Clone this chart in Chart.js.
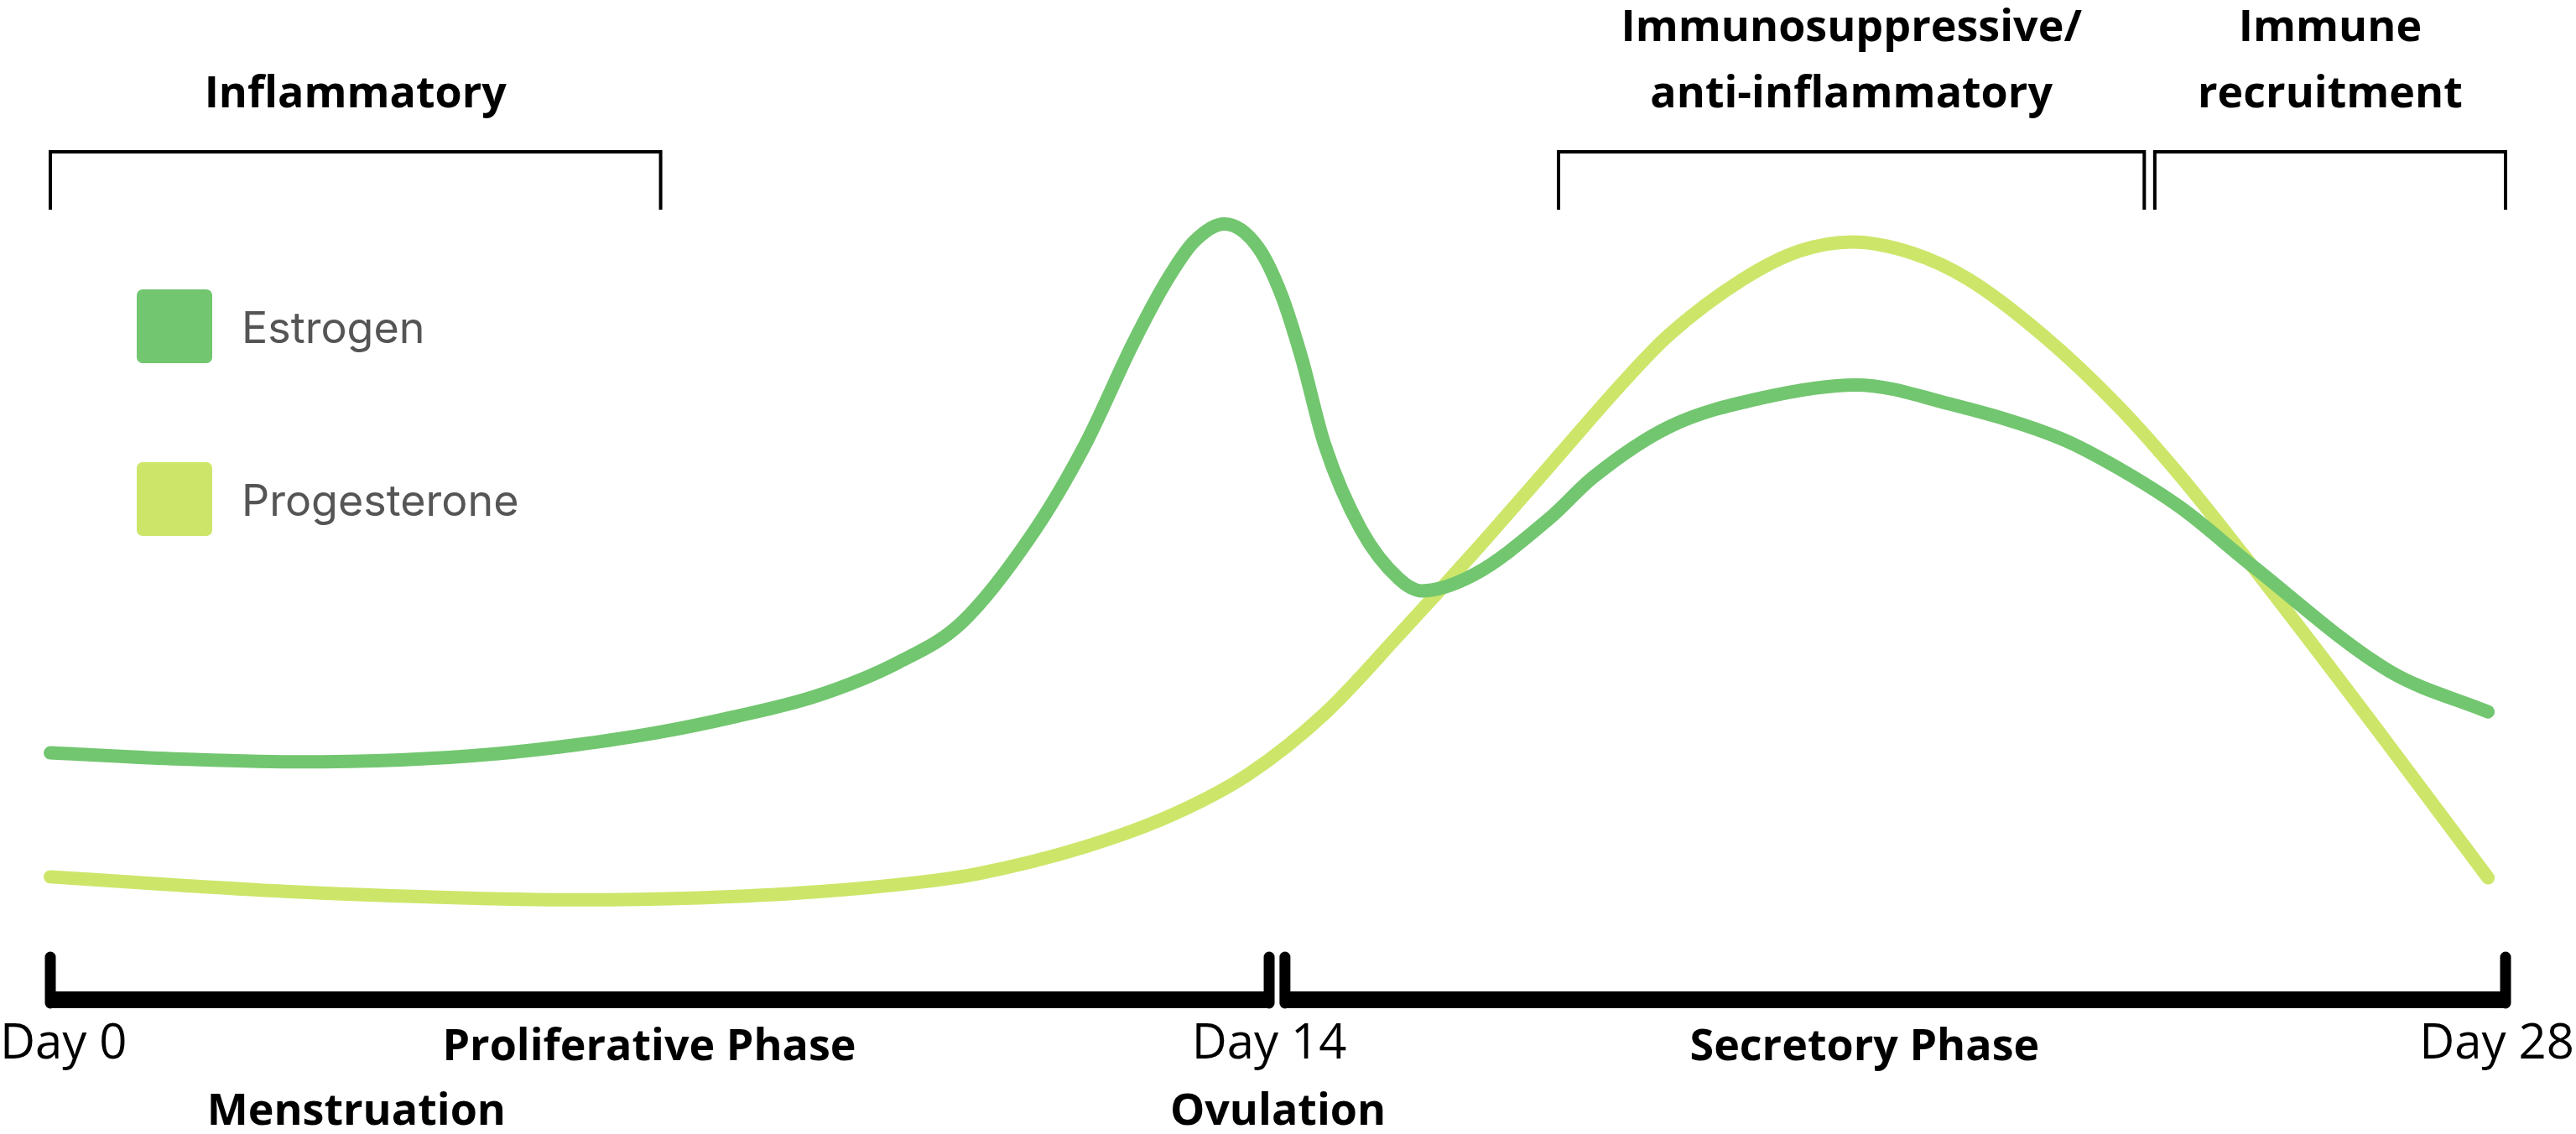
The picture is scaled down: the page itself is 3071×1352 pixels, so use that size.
<!DOCTYPE html>
<html>
<head>
<meta charset="utf-8">
<script src="https://cdn.jsdelivr.net/npm/chart.js@4"></script>
<style>
    html, body { margin: 0; padding: 0; background: #fff; overflow: hidden; }
    canvas { display: block; }
</style>
</head>
<body>
<canvas id="chart" width="3071" height="1352" style="width:3071px;height:1352px"></canvas>
<script>
// cycle day / relative hormone level
let estrogenDay = [0, 1.4, 2.78, 4.0, 5.08, 6.0, 6.91, 7.8, 8.74, 9.66, 10.39, 11.2, 11.8, 12.35, 12.73, 13.04, 13.39, 13.77, 14.04, 14.27, 14.53, 14.95, 15.38, 15.64, 16.23, 17.09, 17.6, 18.46, 19.52, 20.59, 21.66, 22.94, 23.58, 24.3, 25.1, 26.67, 27.8];
let estrogenLevel = [24.7, 24.1, 23.8, 24.0, 24.6, 25.5, 26.7, 28.3, 30.4, 33.7, 37.7, 46.6, 55.5, 65.7, 71.9, 75.8, 77.6, 75.3, 70.5, 64.2, 55.6, 47.0, 42.1, 40.9, 42.5, 48.1, 52.3, 57.3, 60.2, 61.5, 59.6, 56.1, 53.2, 49.2, 43.5, 32.9, 28.8];

let progesteroneDay = [0, 1.4, 2.78, 4.3, 6.0, 7.4, 8.74, 9.95, 10.57, 11.8, 12.82, 13.67, 14.53, 15.38, 16.23, 17.09, 17.94, 18.46, 19.31, 19.95, 20.55, 21.23, 21.87, 22.72, 23.58, 24.3, 25.1, 26.53, 27.8];
let progesteroneLevel = [12.3, 11.5, 10.8, 10.3, 10.0, 10.2, 10.8, 11.8, 12.6, 15.3, 18.6, 22.6, 28.6, 36.5, 44.7, 53.3, 61.8, 66.5, 72.1, 74.9, 75.8, 74.7, 72.1, 66.5, 59.4, 52.3, 43.5, 27.1, 12.2];

// timeline along the bottom
let phaseNames = ['Proliferative Phase', 'Secretory Phase'];
let phaseStart = [0, 14.08];
let phaseEnd = [13.9, 28];
let phaseLabelAt = [6.83, 20.69];

let dayLabels = ['Day 0', 'Day 14', 'Day 28'];
let dayLabelAt = [0.15, 13.9, 27.9];

let eventNames = ['Menstruation', 'Ovulation'];
let eventAt = [3.49, 14.0];

// immune windows along the top
let immuneNames = [['Inflammatory'], ['Immunosuppressive/', 'anti-inflammatory'], ['Immune', 'recruitment']];
let immuneStart = [0, 17.2, 24.0];
let immuneEnd = [6.96, 23.88, 28.0];

function toPoints(xs, ys) {
    let pts = [];
    for (let i = 0; i < xs.length; i++) {
        pts.push({ x: xs[i], y: ys[i] });
    }
    return pts;
}

const boldFont = '700 52px "Open Sans"';
const dayFont = '400 58px "Open Sans"';
const legendFont = '400 52px Inter';

const decor = {
    id: 'cycle_decor',
    afterDatasetsDraw: (chart) => {
        const ctx = chart.ctx;
        const xs = chart.scales.x;
        const base = chart.scales.y.getPixelForValue(0);

        ctx.save();
        ctx.strokeStyle = '#000';
        ctx.fillStyle = '#000';

        // bottom phase bars with end ticks
        for (let i = 0; i < phaseStart.length; i++) {
            let x0 = xs.getPixelForValue(phaseStart[i]);
            let x1 = xs.getPixelForValue(phaseEnd[i]);
            ctx.lineCap = 'butt';
            ctx.lineWidth = 20;
            ctx.beginPath();
            ctx.moveTo(x0, base);
            ctx.lineTo(x1, base);
            ctx.stroke();
            ctx.lineCap = 'round';
            ctx.lineWidth = 13;
            [x0, x1].forEach(function (px) {
                ctx.beginPath();
                ctx.moveTo(px, base + 4);
                ctx.lineTo(px, base - 51);
                ctx.stroke();
            });
        }

        ctx.textAlign = 'center';
        ctx.textBaseline = 'alphabetic';

        ctx.font = dayFont;
        for (let i = 0; i < dayLabels.length; i++) {
            ctx.fillText(dayLabels[i], xs.getPixelForValue(dayLabelAt[i]), base + 70);
        }

        ctx.font = boldFont;
        for (let i = 0; i < phaseNames.length; i++) {
            ctx.fillText(phaseNames[i], xs.getPixelForValue(phaseLabelAt[i]), base + 72);
        }
        for (let i = 0; i < eventNames.length; i++) {
            ctx.fillText(eventNames[i], xs.getPixelForValue(eventAt[i]), base + 149);
        }

        // top brackets
        ctx.lineCap = 'butt';
        ctx.lineJoin = 'miter';
        ctx.lineWidth = 4;
        for (let i = 0; i < immuneNames.length; i++) {
            let x0 = xs.getPixelForValue(immuneStart[i]);
            let x1 = xs.getPixelForValue(immuneEnd[i]);
            ctx.beginPath();
            ctx.moveTo(x0, 250);
            ctx.lineTo(x0, 181);
            ctx.lineTo(x1, 181);
            ctx.lineTo(x1, 250);
            ctx.stroke();

            let lines = immuneNames[i];
            let cx = (x0 + x1) / 2;
            for (let j = 0; j < lines.length; j++) {
                let yLine = 128 - (lines.length - 1 - j) * 79;
                ctx.fillText(lines[j], cx, yLine);
            }
        }

        // legend
        ctx.textAlign = 'left';
        ctx.font = legendFont;
        chart.data.datasets.forEach(function (ds, i) {
            let top = 345 + i * 206;
            ctx.fillStyle = ds.borderColor;
            ctx.beginPath();
            ctx.roundRect(163, top, 90, 88, 7);
            ctx.fill();
            ctx.fillStyle = '#555555';
            ctx.fillText(ds.label, 288, top + 64);
        });

        ctx.restore();
    }
};

const config = {
    type: 'line',
    data: {
        datasets: [
            {
                label: 'Estrogen',
                data: toPoints(estrogenDay, estrogenLevel),
                borderColor: '#72c66f',
                backgroundColor: '#72c66f',
                borderWidth: 16,
                borderCapStyle: 'round',
                borderJoinStyle: 'round',
                cubicInterpolationMode: 'monotone',
                pointRadius: 0,
                fill: false,
                clip: false
            },
            {
                label: 'Progesterone',
                data: toPoints(progesteroneDay, progesteroneLevel),
                borderColor: '#cde66a',
                backgroundColor: '#cde66a',
                borderWidth: 16,
                borderCapStyle: 'round',
                borderJoinStyle: 'round',
                cubicInterpolationMode: 'monotone',
                pointRadius: 0,
                fill: false,
                clip: false
            }
        ]
    },
    options: {
        responsive: false,
        devicePixelRatio: 1,
        animation: false,
        events: [],
        layout: {
            padding: { left: 60, right: 84, top: 0, bottom: 160 }
        },
        plugins: {
            legend: { display: false },
            tooltip: { enabled: false }
        },
        scales: {
            x: { type: 'linear', min: 0, max: 28, display: false },
            y: { type: 'linear', min: 0, max: 100, display: false }
        }
    },
    plugins: [decor]
};

let chart = new Chart(document.getElementById('chart'), config);
</script>
</body>
</html>
